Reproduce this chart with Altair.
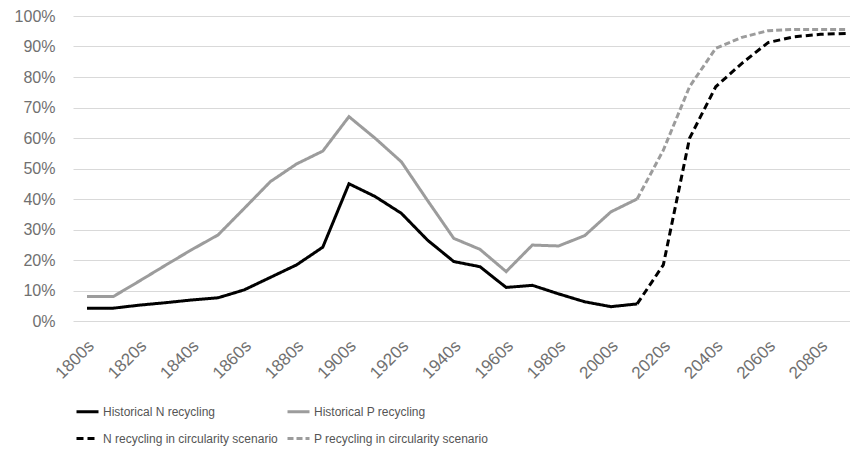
import altair as alt
import pandas as pd

decades = [f"{y}s" for y in range(1800, 2100, 10)]

n_hist = [4.2, 4.2, 5.2, 6.0, 6.9, 7.6, 10.2, 14.3, 18.4, 24.2, 45.0, 40.8,
          35.3, 26.5, 19.5, 17.8, 11.0, 11.7, 8.9, 6.3, 4.7, 5.6]
p_hist = [8.0, 8.0, 13.1, 18.3, 23.4, 28.2, 36.9, 45.7, 51.5, 55.7, 67.0, 59.9,
          52.2, 39.5, 27.1, 23.5, 16.2, 24.9, 24.6, 28.0, 35.8, 40.0]
n_scen = [5.6, 18.4, 59.9, 76.8, 84.5, 91.3, 93.2, 94.0, 94.3]
p_scen = [40.0, 56.0, 76.8, 89.4, 93.0, 95.2, 95.6, 95.6, 95.6]

# legend is laid out column by column, so order entries accordingly
series_names = ["Historical N recycling", "N recycling in circularity scenario",
                "Historical P recycling", "P recycling in circularity scenario"]
series_colors = ["#000000", "#000000", "#9c9c9c", "#9c9c9c"]
series_dashes = [[1, 0], [7, 4], [1, 0], [6, 3]]

tick_labels = decades[::2]

rows = []
for i, v in enumerate(n_hist):
    rows.append({"decade": decades[i], "value": v / 100, "series": "Historical N recycling"})
for i, v in enumerate(p_hist):
    rows.append({"decade": decades[i], "value": v / 100, "series": "Historical P recycling"})
for i, v in enumerate(n_scen):
    rows.append({"decade": decades[21 + i], "value": v / 100, "series": "N recycling in circularity scenario"})
for i, v in enumerate(p_scen):
    rows.append({"decade": decades[21 + i], "value": v / 100, "series": "P recycling in circularity scenario"})
df = pd.DataFrame(rows)

axis_font = "Liberation Sans"
legend_font = "Liberation Sans"

legend = alt.Legend(title=None, orient="none", legendX=2, legendY=383,
                    columns=2, columnPadding=3, rowPadding=8,
                    symbolType="stroke", symbolSize=484,
                    symbolStrokeWidth=3, labelOffset=3, labelLimit=400,
                    labelFont=legend_font, labelFontSize=12,
                    labelColor="#555555", padding=0)

chart = alt.Chart(df).mark_line(strokeWidth=3).encode(
    x=alt.X("decade:N", sort=decades,
            scale=alt.Scale(type="point", domain=decades, padding=0.33, align=0.81),
            axis=alt.Axis(title=None, values=tick_labels, labelAngle=-45,
                          labelAlign="right", labelBaseline="middle",
                          labelPadding=22, labelOffset=4, ticks=False, domain=False,
                          grid=False, labelFont=axis_font, labelFontSize=17,
                          labelColor="#707070")),
    y=alt.Y("value:Q", scale=alt.Scale(domain=[0, 1], nice=False),
            axis=alt.Axis(title=None, format=".0%", values=[i / 10 for i in range(11)],
                          ticks=False, domain=False, labelPadding=18,
                          labelFont=axis_font, labelFontSize=16, labelColor="#707070",
                          gridColor="#d9d9d9", gridWidth=1)),
    color=alt.Color("series:N", scale=alt.Scale(domain=series_names, range=series_colors),
                    legend=legend),
    strokeDash=alt.StrokeDash("series:N",
                              scale=alt.Scale(domain=series_names, range=series_dashes),
                              legend=legend),
).properties(
    width=777, height=305,
    autosize=alt.AutoSizeParams(type="none"),
    padding={"left": 65, "top": 8, "right": 0, "bottom": 126},
).configure_view(stroke=None)

chart.save("out.html", embed_options={"renderer": "svg", "actions": False})
